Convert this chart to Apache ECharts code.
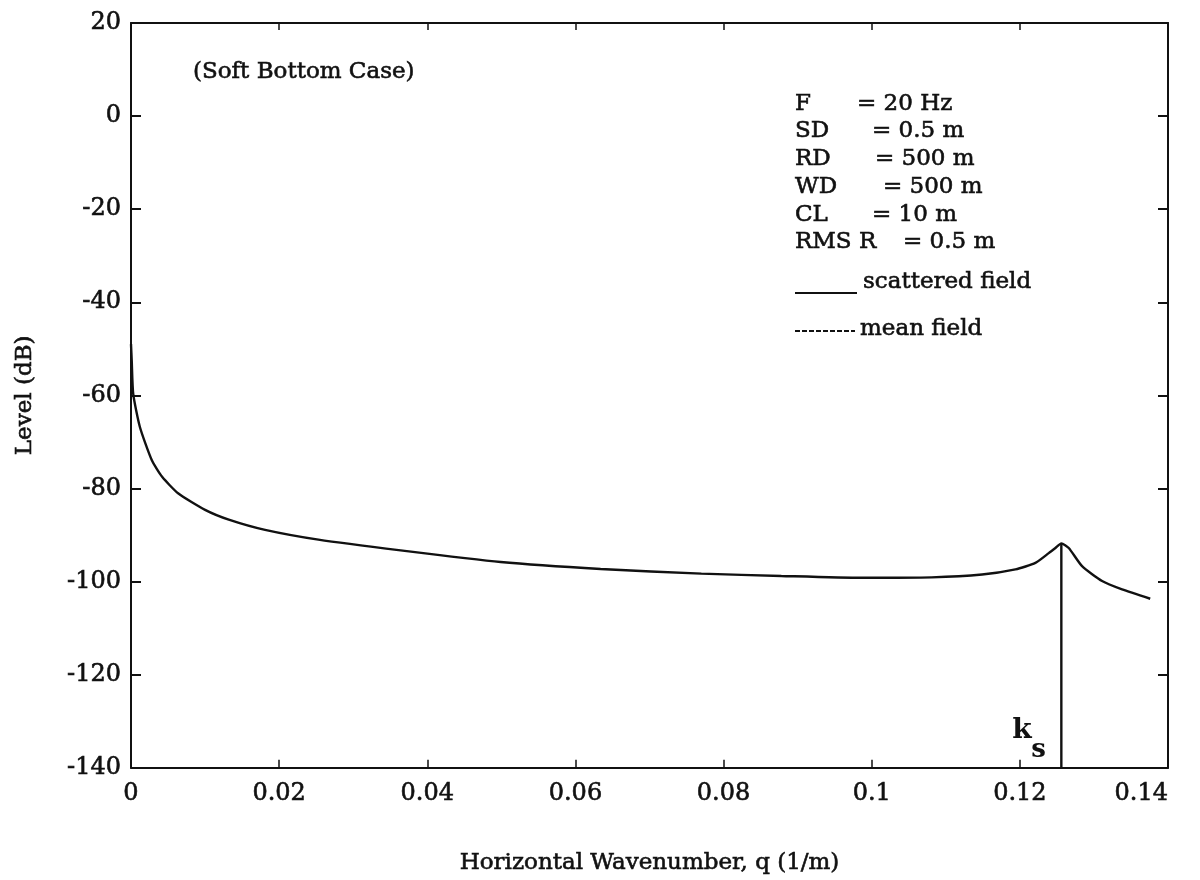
<!DOCTYPE html>
<html>
<head>
<meta charset="utf-8">
<script src="https://cdn.jsdelivr.net/npm/echarts@6/dist/echarts.min.js"></script>
<style>
  html, body { margin: 0; padding: 0; background: #ffffff; }
  #chart { width: 1200px; height: 880px; }
</style>
</head>
<body>
<div id="chart"></div>
<script>
// Scattered-field spectrum, soft bottom case
const wavenumber = [0, 0.0001, 0.0003, 0.0012, 0.0028, 0.0042, 0.0064, 0.0100, 0.0132, 0.0181,
  0.0253, 0.0364, 0.0499, 0.0634, 0.0770, 0.0878, 0.0986, 0.1081, 0.1149, 0.1194, 0.1221,
  0.1239, 0.1248, 0.1256, 0.1266, 0.1284, 0.1311, 0.1338, 0.1376];
const levelDb = [-49, -52.6, -59.7, -66.8, -73.9, -77.5, -81.1, -84.6, -86.7, -88.9,
  -91.0, -93.3, -95.8, -97.3, -98.3, -98.8, -99.2, -99.1, -98.5, -97.4, -96.0,
  -93.9, -92.8, -91.8, -92.8, -96.7, -99.9, -101.7, -103.7];

// Mean field: vertical spike at the shear wavenumber k_s
const ksValue = 0.1256;
const meanFieldLevels = [-91.8, -140];

// Parameter block
const paramNames = ['F', 'SD', 'RD', 'WD', 'CL', 'RMS R'];
const paramValues = ['= 20 Hz', '= 0.5 m', '= 500 m', '= 500 m', '= 10 m', '= 0.5 m'];
const legendNames = ['scattered field', 'mean field'];

const xTicks = { min: 0, max: 0.14, interval: 0.02 };
const yTicks = { min: -140, max: 20, interval: 20 };

const FONT = 'DejaVu Serif';
const INK = '#111111';
const TEXT_STROKE = 0.6;

const chart = echarts.init(document.getElementById('chart'), null, { renderer: 'canvas' });

const scatteredData = wavenumber.map((q, i) => [q, levelDb[i]]);
const meanData = meanFieldLevels.map(v => [ksValue, v]);

const valueOffsets = [857, 872, 875, 883, 872, 903];
const rowY = [104, 131, 159, 187, 215, 242];

function textStyle(str, size) {
  return {
    text: str, font: size + 'px "' + FONT + '"', fill: INK,
    stroke: INK, lineWidth: TEXT_STROKE, verticalAlign: 'middle'
  };
}

const graphics = [
  { type: 'text', x: 193, y: 72, style: textStyle('(Soft Bottom Case)', 23) }
];
paramNames.forEach((n, i) => {
  graphics.push({ type: 'text', x: 795, y: rowY[i], style: textStyle(n, 23) });
  graphics.push({ type: 'text', x: valueOffsets[i], y: rowY[i], style: textStyle(paramValues[i], 23) });
});
// legend samples
graphics.push({
  type: 'line', shape: { x1: 795, y1: 293, x2: 857, y2: 293 },
  style: { stroke: INK, lineWidth: 2 }
});
graphics.push({ type: 'text', x: 863, y: 282, style: textStyle(legendNames[0], 23) });
graphics.push({
  type: 'line', shape: { x1: 795, y1: 331, x2: 855, y2: 331 },
  style: { stroke: INK, lineWidth: 2, lineDash: [5, 2] }
});
graphics.push({ type: 'text', x: 860, y: 329, style: textStyle(legendNames[1], 23) });

const axisLineStyle = { color: INK, width: 2 };
const labelStroke = { textBorderColor: INK, textBorderWidth: TEXT_STROKE };

chart.setOption({
  animation: false,
  backgroundColor: '#ffffff',
  grid: { left: 131, right: 32, top: 23, bottom: 107, containLabel: false },
  xAxis: [
    {
      type: 'value', position: 'bottom',
      min: xTicks.min, max: xTicks.max, interval: xTicks.interval,
      name: 'Horizontal Wavenumber, q (1/m)', nameLocation: 'middle', nameGap: 84,
      nameTextStyle: Object.assign({ fontFamily: FONT, fontSize: 23, color: INK }, labelStroke),
      axisLine: { show: true, onZero: false, lineStyle: axisLineStyle },
      axisTick: { show: true, inside: true, length: 8, lineStyle: { color: INK, width: 1.5 } },
      axisLabel: Object.assign({ fontFamily: FONT, fontSize: 24, color: INK, margin: 14, alignMaxLabel: 'right' }, labelStroke),
      splitLine: { show: false }
    },
    {
      type: 'value', position: 'top',
      min: xTicks.min, max: xTicks.max, interval: xTicks.interval,
      axisLine: { show: true, onZero: false, lineStyle: axisLineStyle },
      axisTick: { show: true, inside: true, length: 7, lineStyle: { color: INK, width: 1.5 } },
      axisLabel: { show: false },
      splitLine: { show: false }
    }
  ],
  yAxis: [
    {
      type: 'value', position: 'left',
      min: yTicks.min, max: yTicks.max, interval: yTicks.interval,
      name: 'Level (dB)', nameLocation: 'middle', nameGap: 94, nameRotate: 90,
      nameTextStyle: Object.assign({ fontFamily: FONT, fontSize: 23, color: INK }, labelStroke),
      axisLine: { show: true, onZero: false, lineStyle: axisLineStyle },
      axisTick: { show: true, inside: true, length: 10, lineStyle: { color: INK, width: 2 } },
      axisLabel: Object.assign({ fontFamily: FONT, fontSize: 24, color: INK, margin: 10 }, labelStroke),
      splitLine: { show: false }
    },
    {
      type: 'value', position: 'right',
      min: yTicks.min, max: yTicks.max, interval: yTicks.interval,
      axisLine: { show: true, onZero: false, lineStyle: axisLineStyle },
      axisTick: { show: true, inside: true, length: 10, lineStyle: { color: INK, width: 2 } },
      axisLabel: { show: false },
      splitLine: { show: false }
    }
  ],
  graphic: graphics,
  series: [
    {
      name: legendNames[0], type: 'line', xAxisIndex: 0, yAxisIndex: 0,
      data: scatteredData, showSymbol: false, smooth: 0.2,
      lineStyle: { color: INK, width: 2.4 }, z: 3
    },
    {
      name: legendNames[1], type: 'line', xAxisIndex: 0, yAxisIndex: 0,
      data: meanData, showSymbol: false, symbol: 'none',
      lineStyle: { color: INK, width: 2.4 }, z: 3
    }
  ]
});

// k_s label placed beside the foot of the spike, from axis coordinates
const foot = chart.convertToPixel({ gridIndex: 0 }, [ksValue, meanFieldLevels[1]]);
chart.setOption({
  graphic: graphics.concat([
    {
      type: 'text', x: foot[0] - 49, y: foot[1] - 51,
      style: { text: 'k', font: 'bold 28px "DejaVu Serif"', fill: INK, verticalAlign: 'top' }
    },
    {
      type: 'text', x: foot[0] - 30, y: foot[1] - 30,
      style: { text: 's', font: 'bold 26px "DejaVu Serif"', fill: INK, verticalAlign: 'top' }
    }
  ])
});
</script>
</body>
</html>
